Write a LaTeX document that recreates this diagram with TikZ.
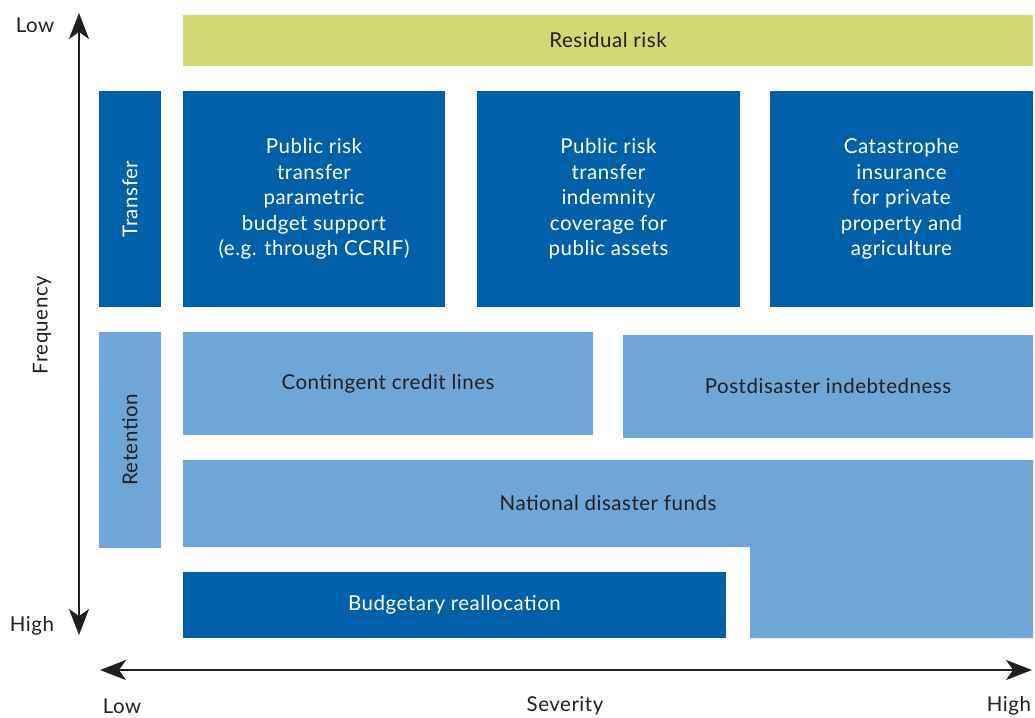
\documentclass[tikz,border=0pt]{standalone}
\usepackage{fontspec}
\setmainfont{Lato}[LetterSpace=2.5]
\usetikzlibrary{arrows.meta}
\definecolor{dblue}{HTML}{0060A9}
\definecolor{lblue}{HTML}{6FA6D8}
\definecolor{ygreen}{HTML}{D4D874}
\definecolor{txt}{HTML}{231F20}
\tikzset{
  box/.style={inner sep=0pt, outer sep=0pt, anchor=north west, align=center,
    font=\fontsize{20.5}{25.5}\selectfont},
  darkbox/.style={box, fill=dblue, text=white},
  lightbox/.style={box, fill=lblue, text=txt},
  axis/.style={line width=2pt, txt, {Stealth[length=26pt,width=20pt,inset=7pt]}-{Stealth[length=26pt,width=20pt,inset=7pt]}},
  lbl/.style={font=\fontsize{20.5}{24}\selectfont, text=txt, inner sep=0pt}
}
\begin{document}
\begin{tikzpicture}[x=1pt,y=-1pt]
\useasboundingbox (0,0) rectangle (1035,717);
% residual risk
\node[box, fill=ygreen, text=txt, minimum width=850pt, minimum height=51pt] (res) at (183,15) {Residual risk};
% transfer
\node[darkbox, minimum width=62pt, minimum height=216pt] (transfer) at (99,91) {};
\node[darkbox, rotate=90, anchor=center, fill=none] (transferlbl) at (transfer.center) {Transfer};
\node[darkbox, minimum width=262pt, minimum height=216pt] (b1) at (183,91) {Public risk\\transfer\\parametric\\budget support\\(e.g. through CCRIF)};
\node[darkbox, minimum width=263pt, minimum height=216pt] (b2) at (477,91) {Public risk\\transfer\\indemnity\\coverage for\\public assets};
\node[darkbox, minimum width=263pt, minimum height=216pt] (b3) at (770,91) {Catastrophe\\insurance\\for private\\property and\\agriculture};
% retention
\node[lightbox, minimum width=62pt, minimum height=216pt] (retention) at (99,332) {};
\node[lightbox, rotate=90, anchor=center, fill=none] (retentionlbl) at (retention.center) {Retention};
\node[lightbox, minimum width=410pt, minimum height=103pt] (ccl) at (183,332) {Contingent credit lines};
\node[lightbox, minimum width=410pt, minimum height=103pt] (pdi) at (623,335) {Postdisaster indebtedness};
% national disaster funds (L shape)
\fill[lblue] (183,460) -- (1033,460) -- (1033,638) -- (750,638) -- (750,547) -- (183,547) -- cycle;
\node[box, anchor=center, text=txt] (ndf) at (608,503) {National disaster funds};
% budgetary reallocation
\node[darkbox, minimum width=543pt, minimum height=66pt] (bud) at (183,572) {Budgetary reallocation};
% axes
\coordinate (vtop) at (79,13);
\coordinate (vbot) at (79,635);
\draw[axis] (vbot) -- (vtop);
\coordinate (hl) at (100,670);
\coordinate (hr) at (1032,670);
\draw[axis] (hl) -- (hr);
% labels
\node[lbl] (flow) at (35,25) {Low};
\node[lbl] (fhigh) at (32,626) {High};
\node[lbl, rotate=90] (freq) at (42,325) {Frequency};
\node[lbl] (slow) at (122,706) {Low};
\node[lbl] (sev) at (565,706) {Severity};
\node[lbl] (shigh) at (1009,706) {High};
\end{tikzpicture}
\end{document}
